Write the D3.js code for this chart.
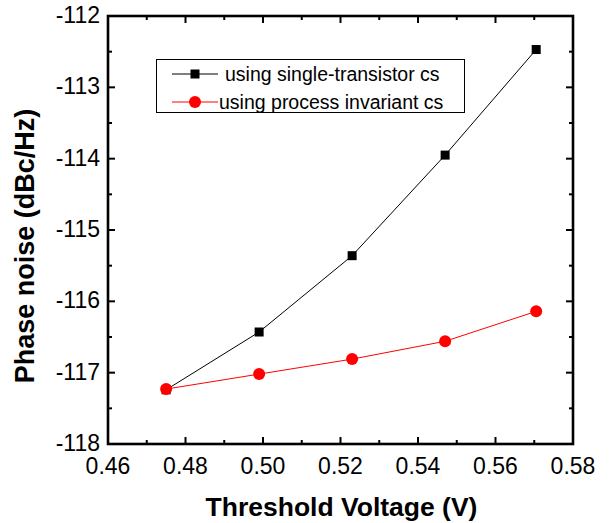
<!DOCTYPE html>
<html><head><meta charset="utf-8">
<script src="https://cdn.jsdelivr.net/npm/d3@7"></script>
<style>body{margin:0;background:#fff}svg{display:block}</style>
</head><body>
<script>
const voltages = [0.475, 0.499, 0.523, 0.547, 0.5705];
const singleTransistor = [-117.24, -116.43, -115.36, -113.95, -112.47];
const processInvariant = [-117.23, -117.02, -116.81, -116.56, -116.14];
const seriesNames = ["using single-transistor cs", "using process invariant cs"];
const xTicks = [0.46, 0.48, 0.50, 0.52, 0.54, 0.56, 0.58];
const yTicks = [-118, -117, -116, -115, -114, -113, -112];

const W = 613, H = 523;
const m = {left:108, right:573, top:16, bottom:444};
const svg = d3.select("body").append("svg").attr("width", W).attr("height", H);
const x = d3.scaleLinear().domain([0.46, 0.58]).range([m.left, m.right]);
const y = d3.scaleLinear().domain([-118, -112]).range([m.bottom, m.top]);
const font = "Liberation Sans, Arial, sans-serif";

// minor ticks
const xMinor = d3.range(0.47, 0.58, 0.02);
const yMinor = d3.range(-117.5, -112, 1);
const tk = svg.append("g").attr("stroke", "#000").attr("stroke-width", 2);
xTicks.forEach(v => {
  tk.append("line").attr("x1", x(v)).attr("x2", x(v)).attr("y1", m.bottom).attr("y2", m.bottom - 7);
  tk.append("line").attr("x1", x(v)).attr("x2", x(v)).attr("y1", m.top).attr("y2", m.top + 7);
});
xMinor.forEach(v => {
  tk.append("line").attr("x1", x(v)).attr("x2", x(v)).attr("y1", m.bottom).attr("y2", m.bottom - 4);
  tk.append("line").attr("x1", x(v)).attr("x2", x(v)).attr("y1", m.top).attr("y2", m.top + 4);
});
yTicks.forEach(v => {
  tk.append("line").attr("y1", y(v)).attr("y2", y(v)).attr("x1", m.left).attr("x2", m.left + 7);
  tk.append("line").attr("y1", y(v)).attr("y2", y(v)).attr("x1", m.right).attr("x2", m.right - 7);
});
yMinor.forEach(v => {
  tk.append("line").attr("y1", y(v)).attr("y2", y(v)).attr("x1", m.left).attr("x2", m.left + 4);
  tk.append("line").attr("y1", y(v)).attr("y2", y(v)).attr("x1", m.right).attr("x2", m.right - 4);
});

svg.append("rect").attr("x", m.left).attr("y", m.top).attr("width", m.right - m.left).attr("height", m.bottom - m.top)
  .attr("fill", "none").attr("stroke", "#000").attr("stroke-width", 2.6);

// tick labels
svg.append("g").selectAll("text").data(xTicks).join("text")
  .attr("x", d => x(d)).attr("y", 473.5).attr("text-anchor", "middle")
  .attr("font-family", font).attr("font-size", 23).text(d => d.toFixed(2));
svg.append("g").selectAll("text").data(yTicks).join("text")
  .attr("x", 100).attr("y", d => y(d) + 7).attr("text-anchor", "end")
  .attr("font-family", font).attr("font-size", 23).text(d => d);

// titles
svg.append("text").attr("x", 341.5).attr("y", 516).attr("text-anchor", "middle")
  .attr("font-family", font).attr("font-size", 26.5).attr("font-weight", "bold").text("Threshold Voltage (V)");
svg.append("text").attr("transform", "translate(34,246) rotate(-90)").attr("text-anchor", "middle")
  .attr("font-family", font).attr("font-size", 27).attr("font-weight", "bold").text("Phase noise (dBc/Hz)");

// series
const line = d3.line().x(d => x(d[0])).y(d => y(d[1]));
const s1 = voltages.map((v, i) => [v, singleTransistor[i]]);
const s2 = voltages.map((v, i) => [v, processInvariant[i]]);
svg.append("path").datum(s1).attr("d", line).attr("fill", "none").attr("stroke", "#000").attr("stroke-width", 1);
svg.append("path").datum(s2).attr("d", line).attr("fill", "none").attr("stroke", "#f00").attr("stroke-width", 1);
svg.append("g").selectAll("rect").data(s1).join("rect")
  .attr("x", d => x(d[0]) - 4.5).attr("y", d => y(d[1]) - 4.5).attr("width", 9).attr("height", 9).attr("fill", "#000");
svg.append("g").selectAll("circle").data(s2).join("circle")
  .attr("cx", d => x(d[0])).attr("cy", d => y(d[1])).attr("r", 6).attr("fill", "#f00");

// legend
const lg = svg.append("g");
lg.append("rect").attr("x", 156.5).attr("y", 59.5).attr("width", 308).attr("height", 53)
  .attr("fill", "#fff").attr("stroke", "#000").attr("stroke-width", 1);
const rows = [{c:"#000", t:"square", ty:74, tx:225}, {c:"#f00", t:"circle", ty:102, tx:219}];
rows.forEach((r, i) => {
  lg.append("line").attr("x1", 172).attr("x2", 218).attr("y1", r.ty).attr("y2", r.ty).attr("stroke", r.c).attr("stroke-width", 1);
  if (r.t === "square") lg.append("rect").attr("x", 195 - 4.5).attr("y", r.ty - 4.5).attr("width", 9).attr("height", 9).attr("fill", r.c);
  else lg.append("circle").attr("cx", 195).attr("cy", r.ty).attr("r", 6).attr("fill", r.c);
  lg.append("text").attr("x", r.tx).attr("y", r.ty + 6.5).attr("font-family", font).attr("font-size", 19.5).text(seriesNames[i]);
});
</script>
</body></html>
